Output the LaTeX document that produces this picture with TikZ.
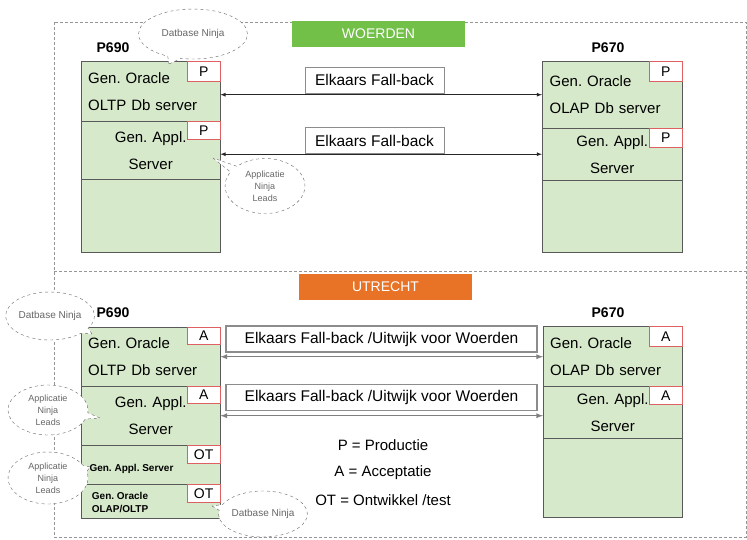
\documentclass[tikz,border=0pt]{standalone}
\usepackage{fontspec}
\setmainfont{Liberation Sans}
\usetikzlibrary{arrows,shapes,shapes.callouts}
\definecolor{rowgreen}{RGB}{215,233,203}
\definecolor{tagred}{RGB}{222,96,96}
\definecolor{woerdengreen}{RGB}{114,192,72}
\definecolor{utrechtorange}{RGB}{232,114,38}
\definecolor{framegray}{RGB}{150,150,150}
\tikzstyle{serverrow}=[draw=black!65,fill=rowgreen,anchor=north west,minimum width=139pt,inner sep=0pt,font=\fontsize{15}{27}\selectfont]
\tikzstyle{leftrow}=[serverrow,text width=125pt,align=left]
\tikzstyle{midrow}=[serverrow,text width=125pt,align=center]
\tikzstyle{envtag}=[draw=tagred,fill=white,anchor=north east,minimum width=33pt,inner sep=0pt,font=\fontsize{14}{14}\selectfont]
\tikzstyle{smalltext}=[font=\bfseries\fontsize{10}{13}\selectfont]
\tikzstyle{hostlabel}=[font=\bfseries\fontsize{14}{14}\selectfont]
\tikzstyle{sitebanner}=[minimum width=173pt,minimum height=26pt,text=white,font=\fontsize{14}{14}\selectfont]
\tikzstyle{fallbacklabel}=[draw=black!45,fill=white,minimum height=26pt,font=\fontsize{15.5}{15.5}\selectfont]
\tikzstyle{fallbackarc}=[<->,>=latex,black!85,line width=0.8pt]
\tikzstyle{fallbackarcgray}=[<->,>=latex,black!50,line width=1.3pt]
\tikzstyle{ninjacallout}=[ellipse callout,draw=black!60,dashed,fill=white,text=black!60,align=center,inner sep=0pt,font=\fontsize{9}{12}\selectfont]
\tikzstyle{dbfont}=[font=\fontsize{10}{12}\selectfont]
\tikzstyle{legendtext}=[font=\fontsize{15}{15}\selectfont]
\tikzstyle{framedash}=[framegray,densely dashed]

\begin{document}
\frenchspacing
\begin{tikzpicture}[x=1pt,y=-1pt]

\useasboundingbox (0,0) rectangle (747,539);

% site frames
\draw[framedash] (54,22) rectangle (746,537);
\draw[framedash] (54,271) -- (746,271);

\node[sitebanner,fill=woerdengreen] (woerden) at (378.5,34) {WOERDEN};
\node[sitebanner,fill=utrechtorange] (utrecht) at (385.5,286.5) {UTRECHT};

\node[hostlabel] (wP690) at (113,48) {P690};
\node[hostlabel] (wP670) at (608,48) {P670};
\node[hostlabel] (uP690) at (113,313) {P690};
\node[hostlabel] (uP670) at (608,313) {P670};

% Woerden P690
\node[leftrow,minimum height=60pt] (WLa) at (81,61) {Gen. Oracle\\OLTP Db server};
\node[midrow,minimum height=58pt] (WLb) at (81,121) {Gen. Appl.\\Server};
\node[serverrow,minimum height=73pt] (WLc) at (81,179) {};
\node[envtag,minimum height=20pt] (WLaTag) at (WLa.north east) {P};
\node[envtag,minimum height=18pt] (WLbTag) at (WLb.north east) {P};

% Woerden P670
\node[leftrow,minimum width=140pt,minimum height=67pt] (WRa) at (542,61) {Gen. Oracle\\OLAP Db server};
\node[midrow,minimum width=140pt,minimum height=52pt] (WRb) at (542,128) {Gen. Appl.\\Server};
\node[serverrow,minimum width=140pt,minimum height=72pt] (WRc) at (542,180) {};
\node[envtag,minimum height=20pt] (WRaTag) at (WRa.north east) {P};
\node[envtag,minimum height=19pt] (WRbTag) at (WRb.north east) {P};

\draw[fallbackarc] (WLa.east |- WRa.west) -- (WRa.west);
\draw[fallbackarc] (WLb.east |- WRb.west) -- (WRb.west);
\node[fallbacklabel,minimum width=139pt] (WfbA) at (374.5,80) {Elkaars Fall-back};
\node[fallbacklabel,minimum width=139pt] (WfbB) at (374.5,140.5) {Elkaars Fall-back};

% Utrecht P690
\node[leftrow,minimum height=59pt] (ULa) at (81,327) {Gen. Oracle\\OLTP Db server};
\node[midrow,minimum height=59pt] (ULb) at (81,386) {Gen. Appl.\\Server};
\node[serverrow,minimum height=39pt] (ULc) at (81,445) {};
\node[serverrow,minimum height=34pt] (ULd) at (81,484) {};
\node[envtag,minimum height=17pt] (ULaTag) at (ULa.north east) {A};
\node[envtag,minimum height=17pt] (ULbTag) at (ULb.north east) {A};
\node[envtag,minimum height=18pt] (ULcTag) at (ULc.north east) {OT};
\node[envtag,minimum height=18pt] (ULdTag) at (ULd.north east) {OT};
\node[smalltext,anchor=west] (ULcText) at (86,469) {Gen. Appl. Server};
\node[smalltext,align=center] (ULdText) at (120,502) {Gen. Oracle\\OLAP/OLTP};

% Utrecht P670
\node[leftrow,minimum height=60pt] (URa) at (543,326) {Gen. Oracle\\OLAP Db server};
\node[midrow,minimum height=52pt] (URb) at (543,386) {Gen. Appl.\\Server};
\node[serverrow,minimum height=79pt] (URc) at (543,438) {};
\node[envtag,minimum height=20pt] (URaTag) at (URa.north east) {A};
\node[envtag,minimum height=18pt] (URbTag) at (URb.north east) {A};

\draw[fallbackarcgray] (ULa.east) -- (ULa.east -| URa.west);
\draw[fallbackarcgray] (ULb.east) -- (ULb.east -| URb.west);
\node[fallbacklabel,minimum width=311pt,line width=1.2pt] (UfbA) at (381.5,339) {Elkaars Fall-back /Uitwijk voor Woerden};
\node[fallbacklabel,minimum width=311pt,line width=1.2pt] (UfbB) at (381.5,397.5) {Elkaars Fall-back /Uitwijk voor Woerden};

\node[legendtext] (legP) at (383,445) {P = Productie};
\node[legendtext] (legA) at (383,473) {A = Acceptatie};
\node[legendtext] (legOT) at (383,500) {OT = Ontwikkel /test};

% ninja callouts
\coordinate (dbTipW) at (169,64);
\coordinate (appTipW) at (213,158);
\coordinate (dbTipU1) at (92,334);
\coordinate (appTipU1) at (100,418);
\coordinate (appTipU2) at (90,467);
\coordinate (dbTipU2) at (212,506);

\node[ninjacallout,dbfont,minimum width=109pt,minimum height=50pt,callout absolute pointer={(dbTipW)}] (dbNinjaW) at (193,34) {Datbase Ninja};
\node[ninjacallout,minimum width=80pt,minimum height=55pt,callout absolute pointer={(appTipW)}] (appNinjaW) at (265,186) {Applicatie\\Ninja\\Leads};
\node[ninjacallout,dbfont,minimum width=86pt,minimum height=48pt,callout absolute pointer={(dbTipU1)}] (dbNinjaU1) at (50,316) {Datbase Ninja};
\node[ninjacallout,minimum width=80pt,minimum height=50pt,callout absolute pointer={(appTipU1)}] (appNinjaU1) at (48,410) {Applicatie\\Ninja\\Leads};
\node[ninjacallout,minimum width=80pt,minimum height=52pt,callout absolute pointer={(appTipU2)}] (appNinjaU2) at (48,478) {Applicatie\\Ninja\\Leads};
\node[ninjacallout,dbfont,minimum width=82pt,minimum height=46pt,callout absolute pointer={(dbTipU2)}] (dbNinjaU2) at (263,514) {Datbase Ninja};

\end{tikzpicture}
\end{document}
